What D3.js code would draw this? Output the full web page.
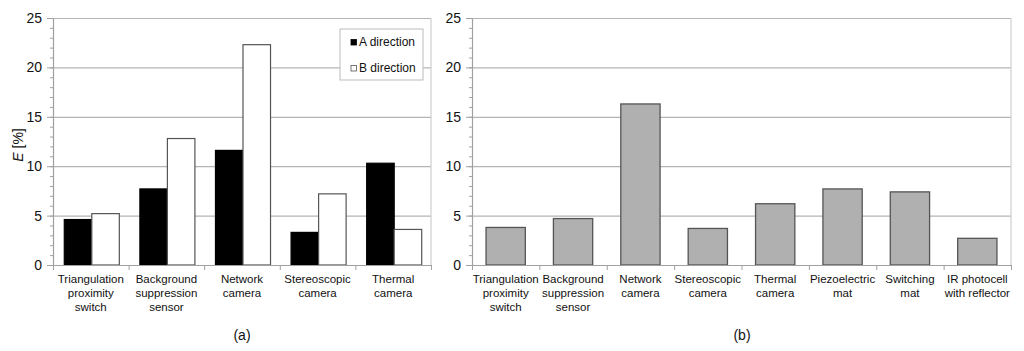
<!DOCTYPE html>
<html><head><meta charset="utf-8">
<script src="https://cdn.jsdelivr.net/npm/d3@7"></script>
<style>
body{margin:0;background:#fff;}
svg{font-family:"Liberation Sans",Arial,sans-serif;}
</style></head>
<body><svg id="c" width="1024" height="351"></svg>
<script>
const catsA = ["Triangulation\nproximity\nswitch","Background\nsuppression\nsensor","Network\ncamera","Stereoscopic\ncamera","Thermal\ncamera"];
const seriesNames = ["A direction","B direction"];
const valsA = [4.6, 7.7, 11.6, 3.3, 10.3];
const valsB = [5.2, 12.8, 22.3, 7.2, 3.6];
const catsB = ["Triangulation\nproximity\nswitch","Background\nsuppression\nsensor","Network\ncamera","Stereoscopic\ncamera","Thermal\ncamera","Piezoelectric\nmat","Switching\nmat","IR photocell\nwith reflector"];
const valsTotal = [3.8, 4.7, 16.3, 3.7, 6.2, 7.7, 7.4, 2.7];
const yTicks = [0,5,10,15,20,25];
const yMinor = d3.range(0,26,1);

const svg = d3.select("#c");
const plotTop = 18, plotBottom = 265;
const gridColor = "#b4b4b4", axisColor = "#a0a0a0", textColor = "#111";

function frame(x0, x1){
  const y = d3.scaleLinear().domain([0,25]).range([plotBottom, plotTop]);
  const g = svg.append("g");
  g.append("g").attr("transform",`translate(${x0},0)`)
    .call(d3.axisLeft(y).tickValues(yTicks.slice(1)).tickSize(-(x1-x0)).tickFormat(""))
    .call(s=>s.select(".domain").remove())
    .call(s=>s.selectAll("line").attr("stroke",gridColor).attr("stroke-width",1.2));
  g.append("line").attr("x1",x1).attr("x2",x1).attr("y1",y(25)).attr("y2",y(0)).attr("stroke","#cfcfcf").attr("stroke-width",1.2);
  return {y,g};
}

function axes(g, y, x0, x1, n, cats, band){
  g.append("g").attr("transform",`translate(${x0},0)`)
    .call(d3.axisLeft(y).tickValues(yMinor).tickSize(3).tickFormat(""))
    .call(s=>s.select(".domain").remove())
    .call(s=>s.selectAll("line").attr("stroke",axisColor));
  g.append("g").attr("transform",`translate(${x0},0)`)
    .call(d3.axisLeft(y).tickValues(yTicks).tickSize(6).tickPadding(5).tickSizeOuter(0))
    .call(s=>s.select(".domain").attr("stroke",axisColor).attr("stroke-width",1.2))
    .call(s=>s.selectAll("line").attr("stroke",axisColor))
    .call(s=>s.selectAll("text").attr("font-size","14px").attr("fill",textColor).attr("font-family","Liberation Sans, Arial, sans-serif"));
  const xl = d3.scaleLinear().domain([0,n]).range([x0,x1]);
  g.append("g").attr("transform",`translate(0,${y(0)})`)
    .call(d3.axisBottom(xl).tickValues(d3.range(n+1)).tickSize(5).tickFormat("").tickSizeOuter(0))
    .call(s=>s.select(".domain").attr("stroke",axisColor).attr("stroke-width",1.2))
    .call(s=>s.selectAll("line").attr("stroke",axisColor));
  const lab = g.append("g").selectAll("text").data(cats).join("text")
    .attr("x", d=>band(d)+band.bandwidth()/2)
    .attr("y", 283)
    .attr("text-anchor","middle").attr("font-size","11.5px").attr("fill",textColor);
  lab.each(function(d){
    const t = d3.select(this);
    d.split("\n").forEach((ln,i)=>{
      t.append("tspan").attr("x", band(d)+band.bandwidth()/2).attr("dy", i===0?0:14).text(ln);
    });
  });
}

// ---- chart (a)
{
  const x0=53, x1=431;
  const {y,g} = frame(x0,x1);
  const band = d3.scaleBand().domain(catsA).range([x0,x1]).paddingInner(0.272).paddingOuter(0.136);
  const inner = d3.scaleBand().domain(seriesNames).range([0,band.bandwidth()]);
  const fills = {"A direction":"#000","B direction":"#fff"};
  const strokes = {"A direction":"#000","B direction":"#555"};
  const data = catsA.map((c,i)=>({c, v:[{s:"A direction",v:valsA[i]},{s:"B direction",v:valsB[i]}]}));
  const grp = g.append("g").selectAll("g").data(data).join("g").attr("transform",d=>`translate(${band(d.c)+1},0)`);
  grp.selectAll("rect").data(d=>d.v).join("rect")
    .attr("x",d=>inner(d.s)).attr("width",inner.bandwidth())
    .attr("y",d=>y(d.v)).attr("height",d=>y(0)-y(d.v))
    .attr("fill",d=>fills[d.s]).attr("stroke",d=>strokes[d.s]).attr("stroke-width",1.2);
  axes(g,y,x0,x1,catsA.length,catsA,band);
  const lg = g.append("g");
  lg.append("rect").attr("x",340).attr("y",29).attr("width",83).attr("height",51).attr("fill","#fff").attr("stroke","#bbb").attr("stroke-width",1);
  seriesNames.forEach((s,i)=>{
    lg.append("rect").attr("x",351).attr("y",39.5+i*26).attr("width",5.5).attr("height",5.5)
      .attr("fill",fills[s]).attr("stroke",strokes[s]).attr("stroke-width",0.8);
    lg.append("text").attr("x",359).attr("y",46+i*26).attr("font-size","12px").attr("fill",textColor).text(s);
  });
  const yl = svg.append("text").attr("transform","translate(22.5,145) rotate(-90)").attr("text-anchor","middle").attr("font-size","14px").attr("fill",textColor);
  yl.append("tspan").attr("font-style","italic").text("E");
  yl.append("tspan").text(" [%]");
  svg.append("text").attr("x",242).attr("y",340).attr("text-anchor","middle").attr("font-size","14px").attr("fill",textColor).text("(a)");
}

// ---- chart (b)
{
  const x0=472, x1=1011;
  const {y,g} = frame(x0,x1);
  const band = d3.scaleBand().domain(catsB).range([x0,x1]).paddingInner(0.417).paddingOuter(0.2085);
  g.append("g").selectAll("rect").data(catsB.map((c,i)=>({c,v:valsTotal[i]}))).join("rect")
    .attr("x",d=>band(d.c)).attr("width",band.bandwidth())
    .attr("y",d=>y(d.v)).attr("height",d=>y(0)-y(d.v))
    .attr("fill","#b0b0b0").attr("stroke","#555").attr("stroke-width",1.3);
  axes(g,y,x0,x1,catsB.length,catsB,band);
  svg.append("text").attr("x",742).attr("y",340).attr("text-anchor","middle").attr("font-size","14px").attr("fill",textColor).text("(b)");
}
</script></body></html>
